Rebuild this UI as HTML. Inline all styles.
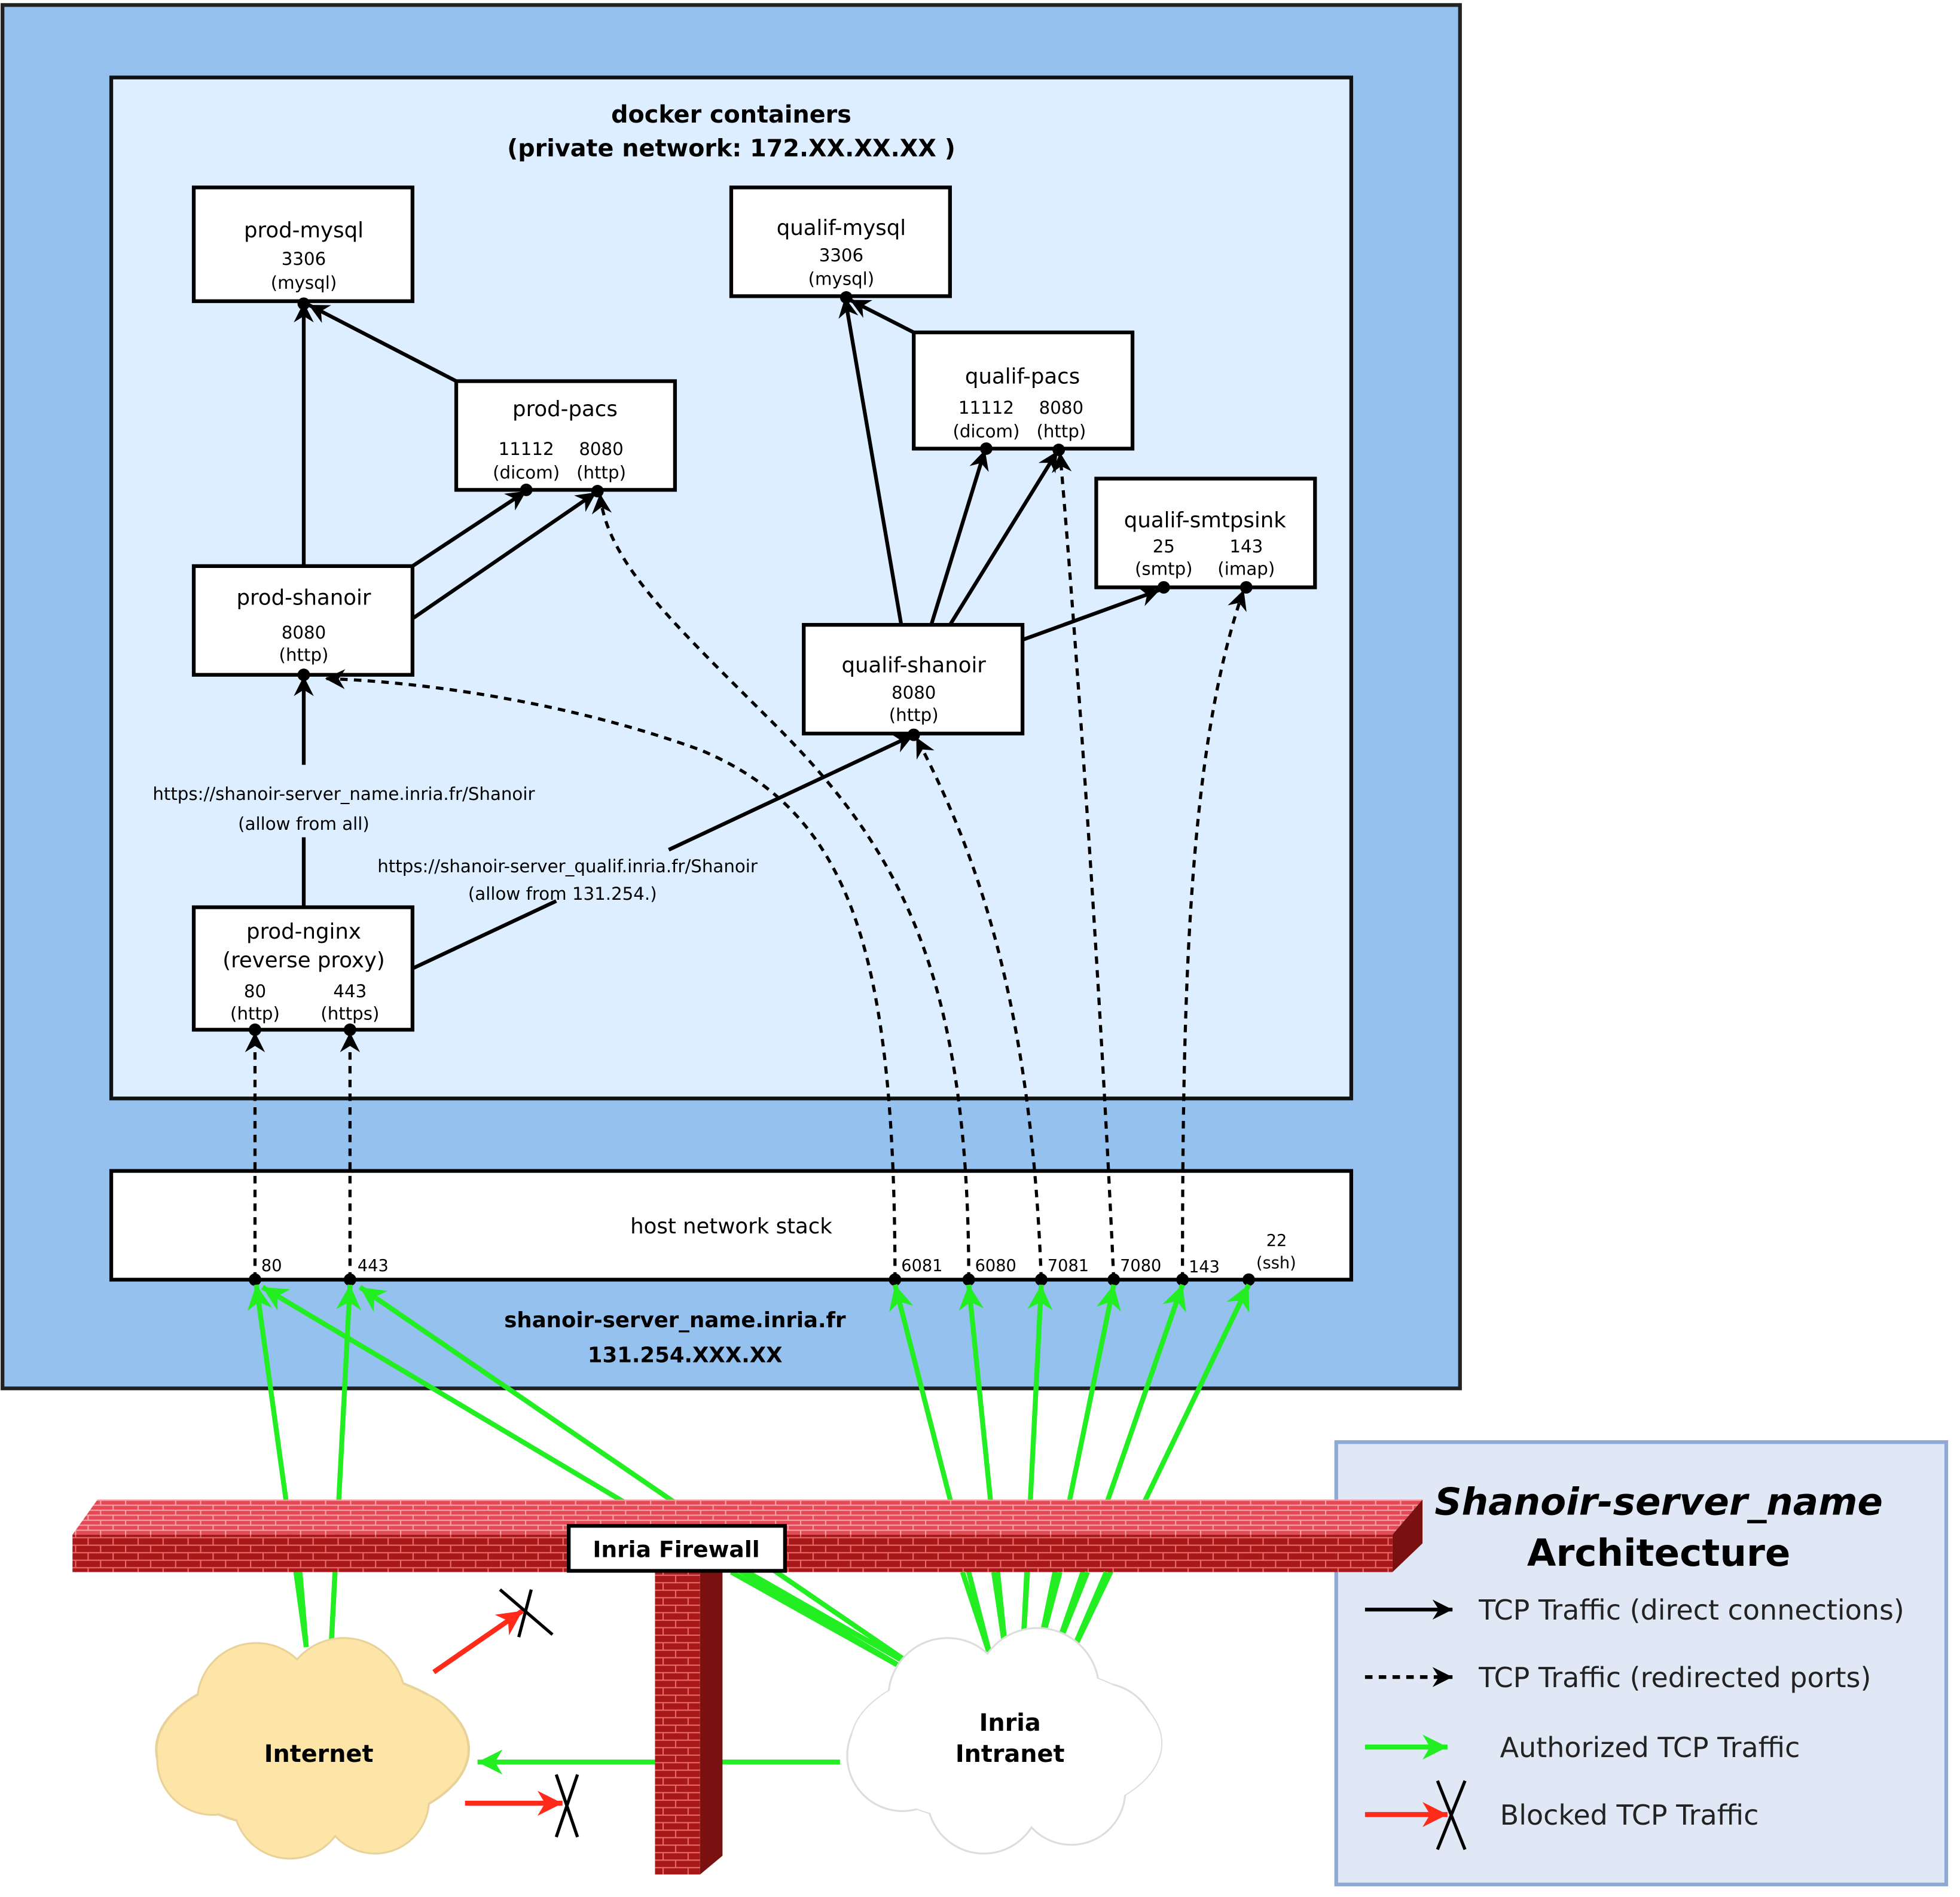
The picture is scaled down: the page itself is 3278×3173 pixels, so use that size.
<!DOCTYPE html>
<html><head><meta charset="utf-8"><style>
html,body{margin:0;padding:0;background:#fff}
svg{display:block}
text{font-family:"DejaVu Sans","Liberation Sans",sans-serif}
</style></head><body>
<svg width="3278" height="3173" viewBox="0 0 1568 1518" preserveAspectRatio="none" xmlns="http://www.w3.org/2000/svg">
<defs>
<marker id="ab" markerUnits="userSpaceOnUse" markerWidth="20" markerHeight="20" refX="16" refY="8" orient="auto"><path d="M0,0 L16,8 L0,16 L5,8 Z" fill="#000"/></marker>
<marker id="ag" markerUnits="userSpaceOnUse" markerWidth="24" markerHeight="24" refX="20" refY="10" orient="auto"><path d="M0,0 L20,10 L0,20 L6,10 Z" fill="#22ee22"/></marker>
<marker id="ar" markerUnits="userSpaceOnUse" markerWidth="24" markerHeight="24" refX="20" refY="10" orient="auto"><path d="M0,0 L20,10 L0,20 L6,10 Z" fill="#ff2a1a"/></marker>
<pattern id="brick" width="20" height="12" patternUnits="userSpaceOnUse"><rect width="20" height="12" fill="#a81818"/><path d="M0,0.5H20M0,6.5H20M0.5,0V6M10.5,6V12" stroke="#e86a6a" stroke-width="1"/></pattern>
<pattern id="brickT" width="20" height="8" patternUnits="userSpaceOnUse"><rect width="20" height="8" fill="#e34a55"/><path d="M0,0.5H20M0,4.5H20M0.5,0V4M10.5,4V8" stroke="#f7a0a8" stroke-width="1"/></pattern>
</defs>
<rect x="2" y="4" width="1166" height="1107" fill="#94c1ee" stroke="#222" stroke-width="3"/>
<rect x="89" y="62" width="992" height="817" fill="#dceeff" stroke="#111" stroke-width="3"/>
<text x="585" y="98" font-size="19" font-weight="bold" text-anchor="middle">docker containers</text>
<text x="585" y="125" font-size="19" font-weight="bold" text-anchor="middle">(private network:   172.XX.XX.XX  )</text>
<g fill="#fff" stroke="#000" stroke-width="3">
<rect x="155" y="150" width="175" height="91"/>
<rect x="585" y="150" width="175" height="87"/>
<rect x="365" y="305" width="175" height="87"/>
<rect x="731" y="266" width="175" height="93"/>
<rect x="877" y="383" width="175" height="87"/>
<rect x="155" y="453" width="175" height="87"/>
<rect x="643" y="500" width="175" height="87"/>
<rect x="155" y="726" width="175" height="98"/>
<rect x="89" y="937" width="992" height="87"/>
</g>
<g font-size="17" text-anchor="middle">
<text x="243" y="190">prod-mysql</text>
<text x="673" y="188">qualif-mysql</text>
<text x="452" y="333">prod-pacs</text>
<text x="818" y="307">qualif-pacs</text>
<text x="964" y="422">qualif-smtpsink</text>
<text x="243" y="484">prod-shanoir</text>
<text x="731" y="538">qualif-shanoir</text>
<text x="243" y="751">prod-nginx</text>
<text x="243" y="774">(reverse proxy)</text>
<text x="585" y="987">host network stack</text>
</g>
<g font-size="14" text-anchor="middle">
<text x="243" y="212">3306</text><text x="243" y="231">(mysql)</text>
<text x="673" y="209">3306</text><text x="673" y="228">(mysql)</text>
<text x="421" y="364">11112</text><text x="421" y="383">(dicom)</text>
<text x="481" y="364">8080</text><text x="481" y="383">(http)</text>
<text x="789" y="331">11112</text><text x="789" y="350">(dicom)</text>
<text x="849" y="331">8080</text><text x="849" y="350">(http)</text>
<text x="931" y="442">25</text><text x="931" y="460">(smtp)</text>
<text x="997" y="442">143</text><text x="997" y="460">(imap)</text>
<text x="243" y="511">8080</text><text x="243" y="529">(http)</text>
<text x="731" y="559">8080</text><text x="731" y="577">(http)</text>
<text x="204" y="798">80</text><text x="204" y="816">(http)</text>
<text x="280" y="798">443</text><text x="280" y="816">(https)</text>
</g>
<g font-size="13">
<text x="209" y="1017">80</text><text x="286" y="1017">443</text>
<text x="721" y="1017">6081</text><text x="780" y="1017">6080</text>
<text x="838" y="1017">7081</text><text x="896" y="1017">7080</text>
<text x="951" y="1018">143</text>
<text x="1013" y="997">22</text><text x="1005" y="1015">(ssh)</text>
</g>
<text x="540" y="1062" font-size="17" font-weight="bold" text-anchor="middle">shanoir-server_name.inria.fr</text>
<text x="548" y="1090" font-size="17" font-weight="bold" text-anchor="middle">131.254.XXX.XX</text>
<g stroke="#000" stroke-width="2.5" fill="none" stroke-dasharray="6,5" marker-end="url(#ab)">
<path d="M204,1024 L204,826"/>
<path d="M280,1024 L280,826"/>
<path d="M716,1024 C716,760 680,650 560,600 C450,560 330,545 260,543"/>
<path d="M775,1024 C775,780 720,680 620,580 C540,500 485,450 480,395"/>
<path d="M833,1024 C825,800 780,680 733,590"/>
<path d="M891,1024 C880,780 860,500 848,362"/>
<path d="M946,1024 C946,800 950,600 995,472"/>
</g>
<g stroke="#000" stroke-width="3" fill="none" marker-end="url(#ab)">
<line x1="243" y1="453" x2="243" y2="242"/>
<line x1="365" y1="305" x2="247" y2="244"/>
<line x1="330" y1="453" x2="421" y2="393"/>
<line x1="330" y1="495" x2="477" y2="394"/>
<line x1="721" y1="500" x2="676" y2="238"/>
<line x1="731" y1="266" x2="680" y2="240"/>
<line x1="745" y1="500" x2="788" y2="360"/>
<line x1="760" y1="500" x2="846" y2="361"/>
<line x1="818" y1="512" x2="928" y2="472"/>
<line x1="243" y1="612" x2="243" y2="541"/>
<line x1="535" y1="680" x2="731" y2="588"/>
</g>
<line x1="330" y1="775" x2="445" y2="721" stroke="#000" stroke-width="3"/>
<line x1="243" y1="670" x2="243" y2="726" stroke="#000" stroke-width="3"/>
<text x="275" y="640" font-size="14" text-anchor="middle">https://shanoir-server_name.inria.fr/Shanoir</text>
<text x="243" y="664" font-size="14" text-anchor="middle">(allow from all)</text>
<text x="454" y="698" font-size="14" text-anchor="middle">https://shanoir-server_qualif.inria.fr/Shanoir</text>
<text x="450" y="720" font-size="14" text-anchor="middle">(allow from 131.254.)</text>
<g fill="#000"><circle cx="243" cy="243" r="5"/><circle cx="421" cy="392" r="5"/><circle cx="478" cy="393" r="5"/><circle cx="677" cy="238" r="5"/><circle cx="789" cy="359" r="5"/><circle cx="847" cy="360" r="5"/><circle cx="931" cy="470" r="5"/><circle cx="997" cy="470" r="5"/><circle cx="243" cy="540" r="5"/><circle cx="731" cy="588" r="5"/><circle cx="204" cy="824" r="5"/><circle cx="280" cy="824" r="5"/>
<circle cx="204" cy="1024" r="5"/><circle cx="280" cy="1024" r="5"/><circle cx="716" cy="1024" r="5"/><circle cx="775" cy="1024" r="5"/><circle cx="833" cy="1024" r="5"/><circle cx="891" cy="1024" r="5"/><circle cx="946" cy="1024" r="5"/><circle cx="999" cy="1024" r="5"/></g>
<rect x="1069" y="1154" width="488" height="354" fill="#dfe8f4" stroke="#8ea9d4" stroke-width="3"/>
<text x="1327" y="1212" font-size="30" font-weight="bold" font-style="italic" text-anchor="middle" font-family="Liberation Sans">Shanoir-server_name</text>
<text x="1327" y="1253" font-size="30" font-weight="bold" text-anchor="middle" font-family="Liberation Sans">Architecture</text>
<line x1="1092" y1="1288" x2="1162" y2="1288" stroke="#000" stroke-width="3" marker-end="url(#ab)"/>
<line x1="1092" y1="1342" x2="1162" y2="1342" stroke="#000" stroke-width="3" stroke-dasharray="6,5" marker-end="url(#ab)"/>
<line x1="1092" y1="1398" x2="1158" y2="1398" stroke="#22ee22" stroke-width="4" marker-end="url(#ag)"/>
<line x1="1092" y1="1452" x2="1158" y2="1452" stroke="#ff2a1a" stroke-width="4" marker-end="url(#ar)"/>
<g stroke="#000" stroke-width="2.5"><line x1="1150" y1="1425" x2="1172" y2="1480"/><line x1="1172" y1="1425" x2="1150" y2="1480"/></g>
<g font-size="22" fill="#222">
<text x="1183" y="1296">TCP Traffic (direct connections)</text>
<text x="1183" y="1350">TCP Traffic (redirected ports)</text>
<text x="1200" y="1406">Authorized TCP Traffic</text>
<text x="1200" y="1460">Blocked TCP Traffic</text>
</g>
<g stroke="#22ee22" stroke-width="4" fill="none" marker-end="url(#ag)">
<line x1="245" y1="1318" x2="205" y2="1028"/>
<line x1="265" y1="1316" x2="280" y2="1028"/>
<line x1="728" y1="1338" x2="210" y2="1030"/>
<line x1="738" y1="1338" x2="288" y2="1030"/>
<line x1="793" y1="1328" x2="716" y2="1028"/>
<line x1="805" y1="1326" x2="775" y2="1028"/>
<line x1="818" y1="1325" x2="833" y2="1028"/>
<line x1="830" y1="1326" x2="891" y2="1028"/>
<line x1="842" y1="1328" x2="946" y2="1028"/>
<line x1="854" y1="1330" x2="999" y2="1028"/>
<line x1="672" y1="1410" x2="382" y2="1410"/>
</g>
<polygon points="78,1200 1138,1200 1114,1228 58,1228" fill="url(#brickT)"/>
<polygon points="1114,1228 1138,1200 1138,1235 1114,1258" fill="#7a1010"/>
<rect x="58" y="1228" width="1056" height="30" fill="url(#brick)"/>
<rect x="524" y="1258" width="36" height="242" fill="url(#brick)"/>
<polygon points="560,1258 578,1240 578,1485 560,1500" fill="#7a1010"/>
<g stroke="#22ee22" stroke-width="4">
<line x1="240" y1="1258" x2="245" y2="1318"/><line x1="268" y1="1258" x2="265" y2="1316"/>
<line x1="585" y1="1258" x2="728" y2="1338"/><line x1="598" y1="1258" x2="738" y2="1338"/>
<line x1="770" y1="1258" x2="793" y2="1328"/><line x1="795" y1="1258" x2="805" y2="1326"/>
<line x1="822" y1="1258" x2="818" y2="1325"/><line x1="848" y1="1258" x2="830" y2="1326"/>
<line x1="870" y1="1258" x2="842" y2="1328"/><line x1="885" y1="1258" x2="854" y2="1330"/>
</g>
<rect x="455" y="1221" width="173" height="36" fill="#fff" stroke="#000" stroke-width="3"/>
<text x="541" y="1246" font-size="18" font-weight="bold" text-anchor="middle" font-family="Liberation Sans">Inria Firewall</text>
<g fill="#e8d29a">
<ellipse cx="250" cy="1400" rx="126" ry="66"/>
<circle cx="205" cy="1362" r="48"/><circle cx="275" cy="1360" r="50"/><circle cx="325" cy="1398" r="46"/>
<circle cx="170" cy="1408" r="45"/><circle cx="232" cy="1442" r="46"/><circle cx="300" cy="1440" r="44"/>
</g>
<g fill="#fde5a8">
<ellipse cx="250" cy="1400" rx="124" ry="64"/>
<circle cx="205" cy="1362" r="46.5"/><circle cx="275" cy="1360" r="48.5"/><circle cx="325" cy="1398" r="44.5"/>
<circle cx="170" cy="1408" r="43.5"/><circle cx="232" cy="1442" r="44.5"/><circle cx="300" cy="1440" r="42.5"/>
</g>
<text x="255" y="1410" font-size="19" font-weight="bold" text-anchor="middle" font-family="Liberation Sans">Internet</text>
<g fill="#ddd">
<ellipse cx="805" cy="1395" rx="125" ry="65"/>
<circle cx="758" cy="1358" r="48"/><circle cx="830" cy="1352" r="50"/><circle cx="880" cy="1392" r="46"/>
<circle cx="722" cy="1405" r="45"/><circle cx="787" cy="1438" r="46"/><circle cx="857" cy="1433" r="44"/>
</g>
<g fill="#fff">
<ellipse cx="805" cy="1395" rx="124" ry="64"/>
<circle cx="758" cy="1358" r="46.5"/><circle cx="830" cy="1352" r="48.5"/><circle cx="880" cy="1392" r="44.5"/>
<circle cx="722" cy="1405" r="43.5"/><circle cx="787" cy="1438" r="44.5"/><circle cx="857" cy="1433" r="42.5"/>
</g>
<text x="808" y="1385" font-size="19" font-weight="bold" text-anchor="middle" font-family="Liberation Sans">Inria</text>
<text x="808" y="1410" font-size="19" font-weight="bold" text-anchor="middle" font-family="Liberation Sans">Intranet</text>
<g stroke="#ff2a1a" stroke-width="4" marker-end="url(#ar)">
<line x1="347" y1="1338" x2="418" y2="1289"/>
<line x1="372" y1="1443" x2="450" y2="1443"/>
</g>
<g stroke="#000" stroke-width="2.5">
<line x1="400" y1="1272" x2="442" y2="1308"/><line x1="425" y1="1272" x2="415" y2="1310"/>
<line x1="445" y1="1420" x2="462" y2="1470"/><line x1="462" y1="1420" x2="445" y2="1470"/>
</g>
</svg>
</body></html>
